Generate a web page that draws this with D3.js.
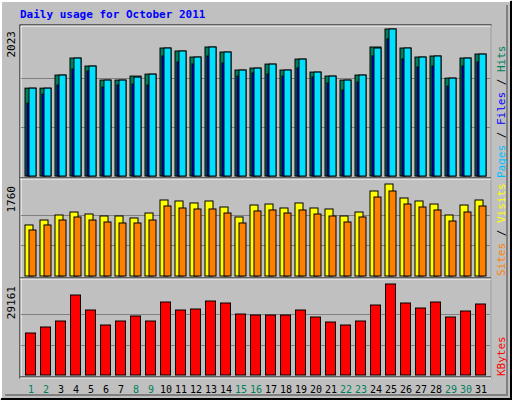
<!DOCTYPE html><html><head><script src="https://d3js.org/d3.v7.min.js"></script>
<style>body{margin:0;background:#fff}</style></head><body><svg id="c" width="512" height="400"></svg>
<script>
const days=d3.range(1,32).map(String);
const weekend=["1","2","8","9","15","16","22","23","29","30"];
const hits=[1209,1209,1389,1623,1513,1320,1320,1375,1402,1761,1720,1637,1775,1706,1458,1485,1540,1458,1609,1430,1375,1320,1389,1775,2023,1761,1637,1651,1347,1623,1678];
const pages=[1209,1209,1389,1623,1513,1320,1320,1361,1402,1761,1720,1637,1775,1706,1458,1485,1540,1458,1609,1430,1375,1320,1389,1761,2023,1761,1637,1651,1347,1623,1678];
const files=[1002,1127,1251,1471,1444,1223,1251,1265,1251,1651,1568,1541,1651,1554,1375,1417,1403,1375,1486,1361,1279,1182,1293,1651,1886,1610,1500,1513,1237,1513,1568];
const sites=[976,1071,1167,1224,1186,1148,1148,1110,1205,1454,1435,1397,1435,1320,1129,1358,1377,1301,1397,1301,1282,1148,1224,1626,1760,1492,1435,1377,1167,1358,1454];
const visits=[880,976,1071,1129,1071,1033,1014,1014,1071,1339,1301,1282,1282,1205,1014,1244,1263,1205,1263,1186,1148,1033,1129,1511,1626,1377,1320,1263,1052,1224,1339];
const kbytes=[13457,15379,17302,25632,20826,16020,17302,18904,17302,23389,20826,21146,23710,23069,19544,19224,19224,19224,20826,18583,16981,16020,17302,22428,29161,23069,21467,23389,18583,20506,22748];

const svg=d3.select("#c");
const F="DejaVu Sans Mono, monospace";
svg.append("rect").attr("width",512).attr("height",400).attr("fill","#c0c0c0");
svg.append("path").attr("d","M1,399V1H511").attr("stroke","#fff").attr("stroke-width",2).attr("fill","none");
svg.append("path").attr("d","M1,399H511V1").attr("stroke","#000").attr("stroke-width",2).attr("fill","none");
svg.append("path").attr("d","M5,395H507V5").attr("stroke","#808080").attr("stroke-width",2).attr("fill","none");
svg.append("text").attr("x",20).attr("y",18).attr("font-family",F).attr("font-size",11).attr("font-weight","bold").attr("fill","#0000ff").text("Daily usage for October 2011");
const x=d3.scaleBand().domain(days).range([22.5,487.5]).paddingInner(0);
// panel frame
svg.append("rect").attr("x",20).attr("y",25).attr("width",471).attr("height",353).attr("fill","none").attr("stroke","#000").attr("stroke-width",1);
svg.append("rect").attr("x",21).attr("y",26).attr("width",470).attr("height",352).attr("fill","none").attr("stroke","#fff").attr("stroke-width",1);
function panel(y0,y1,max,label){
  svg.append("line").attr("x1",20).attr("x2",491).attr("y1",y1+2).attr("y2",y1+2).attr("stroke","#000");
  svg.append("line").attr("x1",20).attr("x2",491).attr("y1",y1+3).attr("y2",y1+3).attr("stroke","#fff");
  const h=y1-y0;
  [1/3,2/3].forEach(f=>svg.append("line").attr("x1",21).attr("x2",490).attr("y1",Math.round(y1-h*f)+.5).attr("y2",Math.round(y1-h*f)+.5).attr("stroke","#808080"));
  svg.append("text").attr("transform",`translate(15,${y0+2}) rotate(-90)`).attr("text-anchor","end").attr("font-family",F).attr("font-size",11).text(label);
}
function rtext(y,parts){
  const t=svg.append("text").attr("transform",`translate(505,${y}) rotate(-90)`).attr("text-anchor","start").attr("font-family",F).attr("font-size",11);
  parts.forEach(p=>t.append("tspan").attr("fill",p[1]).text(p[0]));
}
// top
const y1=d3.scaleLinear().domain([0,2023]).range([176,29]);
panel(29,176,2023,"2023");
const g1=svg.append("g").attr("stroke","#000");
days.forEach((d,i)=>{const b=x(d)+2.5;
 g1.append("rect").attr("x",b).attr("y",y1(hits[i])).attr("width",11).attr("height",176-y1(hits[i])).attr("fill","#00805c");
 g1.append("rect").attr("x",b+2).attr("y",y1(files[i])).attr("width",3).attr("height",176-y1(files[i])).attr("fill","#0000ff");
 g1.append("rect").attr("x",b+4).attr("y",y1(pages[i])).attr("width",7).attr("height",176-y1(pages[i])).attr("fill","#00e0ff");
});
rtext(178,[["Pages","#00c0ff"],[" / ","#000"],["Files","#0000ff"],[" / ","#000"],["Hits","#00805c"]]);
// middle
const y2=d3.scaleLinear().domain([0,1760]).range([276,184]);
panel(184,276,1760,"1760");
const g2=svg.append("g").attr("stroke","#000");
days.forEach((d,i)=>{const b=x(d)+2.5;
 g2.append("rect").attr("x",b).attr("y",y2(sites[i])).attr("width",8).attr("height",276-y2(sites[i])).attr("fill","#ffff00");
 g2.append("rect").attr("x",b+4).attr("y",y2(visits[i])).attr("width",7).attr("height",276-y2(visits[i])).attr("fill","#ff8000");
});
rtext(276,[["Sites","#ff8000"],[" / ","#000"],["Visits","#ffff00"]]);
// bottom
const y3=d3.scaleLinear().domain([0,29161]).range([375,284]);
panel(284,375,29161,"29161");
const g3=svg.append("g").attr("stroke","#000");
days.forEach((d,i)=>{const b=x(d)+3;
 g3.append("rect").attr("x",b).attr("y",y3(kbytes[i])).attr("width",10).attr("height",375-y3(kbytes[i])).attr("fill","#ff0000");
});
rtext(376,[["KBytes","#ff0000"]]);
// day labels
svg.append("g").selectAll("text").data(days).join("text").attr("x",d=>x(d)+x.bandwidth()/2+1).attr("y",393).attr("text-anchor","middle")
 .attr("font-family",F).attr("font-size",10).attr("fill",d=>weekend.includes(d)?"#00805c":"#000").text(d=>d);
</script></body></html>
